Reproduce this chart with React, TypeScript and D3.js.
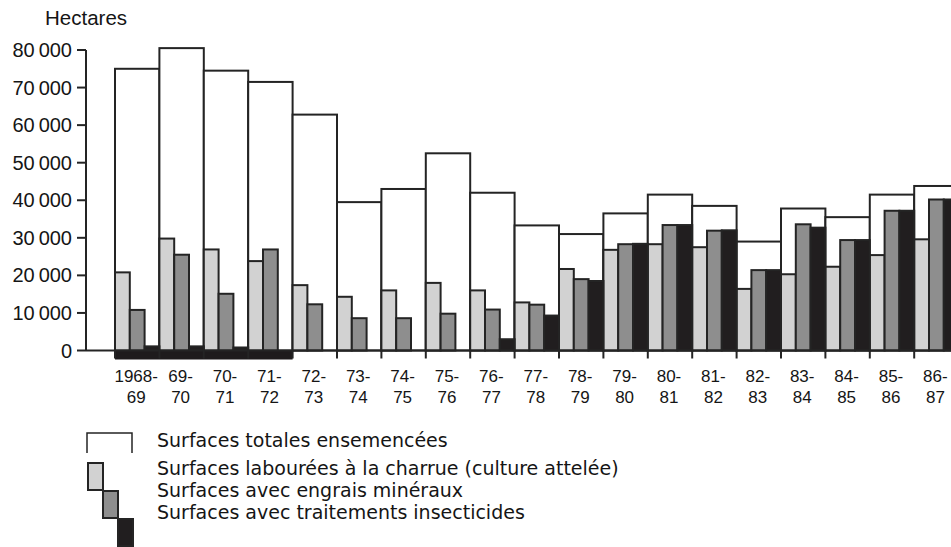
import React, { useEffect, useRef } from "react";
import * as d3 from "d3";

// Périodes (campagnes agricoles)
const periods = [
  "1968-69", "69-70", "70-71", "71-72", "72-73", "73-74", "74-75", "75-76", "76-77", "77-78",
  "78-79", "79-80", "80-81", "81-82", "82-83", "83-84", "84-85", "85-86", "86-87",
];
const labelTop = [
  "1968-", "69-", "70-", "71-", "72-", "73-", "74-", "75-", "76-", "77-",
  "78-", "79-", "80-", "81-", "82-", "83-", "84-", "85-", "86-",
];
const labelBottom = [
  "69", "70", "71", "72", "73", "74", "75", "76", "77", "78",
  "79", "80", "81", "82", "83", "84", "85", "86", "87",
];

// Hectares
const totales = [75000, 80500, 74500, 71500, 62800, 39500, 43000, 52500, 42000, 33300, 31000, 36500, 41500, 38500, 29000, 37800, 35500, 41500, 43800];
const charrue = [20800, 29800, 26900, 23800, 17400, 14300, 16000, 18000, 16000, 12800, 21700, 26800, 28300, 27500, 16400, 20300, 22300, 25400, 29600];
const engrais = [10800, 25500, 15100, 26900, 12300, 8600, 8600, 9800, 10900, 12200, 19000, 28300, 33400, 31900, 21400, 33600, 29400, 37200, 40200];
const insecticides = [1100, 1100, 800, 0, 0, 0, 0, 0, 3000, 9300, 18500, 28400, 33400, 32000, 21400, 32700, 29400, 37200, 40200];

// bande noire sous l'axe
const bandPeriods = ["1968-69", "69-70", "70-71", "71-72"];

const yTicks = [0, 10000, 20000, 30000, 40000, 50000, 60000, 70000, 80000];

const legendItems = [
  "Surfaces totales ensemencées",
  "Surfaces labourées à la charrue (culture attelée)",
  "Surfaces avec engrais minéraux",
  "Surfaces avec traitements insecticides",
];

const subSeries = ["charrue", "engrais", "insecticides"];
const subColors = ["#d2d2d2", "#8e8e8e", "#211e1f"];
const ink = "#242424";

const App = () => {
  const svgRef = useRef<SVGSVGElement>(null);

  useEffect(() => {
    const width = 951;
    const height = 547;
    const svg = d3.select(svgRef.current).attr("width", width).attr("height", height);
    svg.selectAll("*").remove();

    const axisX = 86;
    const x0 = 115;
    const step = 44.4;

    const x = d3.scaleBand<string>()
      .domain(periods)
      .range([x0, x0 + step * periods.length])
      .padding(0);

    const xs = d3.scaleBand<string>()
      .domain(subSeries)
      .range([0, x.bandwidth()])
      .padding(0);

    const y = d3.scaleLinear().domain([0, 80000]).range([350.5, 50]);

    const sub = [charrue, engrais, insecticides];
    const font = "'Liberation Sans', Arial, sans-serif";
    const textColor = "#151515";

    // barres totales
    svg.append("g")
      .selectAll("rect")
      .data(periods)
      .join("rect")
      .attr("x", (d) => x(d)!)
      .attr("y", (d, i) => y(totales[i]))
      .attr("width", x.bandwidth())
      .attr("height", (d, i) => y(0) - y(totales[i]))
      .attr("fill", "#fff")
      .attr("stroke", ink)
      .attr("stroke-width", 2);

    // barres détaillées
    subSeries.forEach((s, k) => {
      svg.append("g")
        .selectAll("rect")
        .data(periods)
        .join("rect")
        .attr("x", (d) => x(d)! + xs(s)!)
        .attr("y", (d, i) => y(sub[k][i]))
        .attr("width", xs.bandwidth())
        .attr("height", (d, i) => y(0) - y(sub[k][i]))
        .attr("fill", subColors[k])
        .attr("stroke", ink)
        .attr("stroke-width", (d, i) => (sub[k][i] > 0 ? 2 : 0));
    });

    // bande noire
    svg.append("rect")
      .attr("x", x(bandPeriods[0])!)
      .attr("y", y(0))
      .attr("width", x.bandwidth() * bandPeriods.length)
      .attr("height", 9)
      .attr("fill", "#1e1b1c");

    // axe des x
    svg.append("line")
      .attr("x1", axisX)
      .attr("x2", width)
      .attr("y1", y(0))
      .attr("y2", y(0))
      .attr("stroke", ink)
      .attr("stroke-width", 2);

    svg.append("g")
      .selectAll("line")
      .data(periods)
      .join("line")
      .attr("x1", (d) => x(d)!)
      .attr("x2", (d) => x(d)!)
      .attr("y1", y(0))
      .attr("y2", y(0) + 8)
      .attr("stroke", ink)
      .attr("stroke-width", 2);

    const xl = svg.append("g")
      .attr("font-family", font)
      .attr("font-size", 17)
      .attr("fill", textColor)
      .attr("text-anchor", "middle");
    xl.selectAll("text.t")
      .data(periods)
      .join("text")
      .attr("class", "t")
      .attr("x", (d) => x(d)! + x.bandwidth() / 2 - 1)
      .attr("y", 382)
      .text((d, i) => labelTop[i]);
    xl.selectAll("text.b")
      .data(periods)
      .join("text")
      .attr("class", "b")
      .attr("x", (d) => x(d)! + x.bandwidth() / 2 - 1)
      .attr("y", 403)
      .text((d, i) => labelBottom[i]);

    // axe des y
    svg.append("line")
      .attr("x1", axisX)
      .attr("x2", axisX)
      .attr("y1", y(80000))
      .attr("y2", y(0))
      .attr("stroke", ink)
      .attr("stroke-width", 2);

    const yl = svg.append("g");
    yl.selectAll("line")
      .data(yTicks)
      .join("line")
      .attr("x1", axisX - 9)
      .attr("x2", axisX)
      .attr("y1", (d) => y(d))
      .attr("y2", (d) => y(d))
      .attr("stroke", ink)
      .attr("stroke-width", 2);
    yl.selectAll("text")
      .data(yTicks)
      .join("text")
      .attr("x", 72)
      .attr("y", (d) => y(d) + 7)
      .attr("text-anchor", "end")
      .attr("font-family", font)
      .attr("font-size", 20)
      .attr("fill", textColor)
      .text((d) => (d === 0 ? "0" : d3.format(",")(d).replace(",", "\u202f")));

    svg.append("text")
      .attr("x", 45)
      .attr("y", 25)
      .attr("font-family", font)
      .attr("font-size", 20.5)
      .attr("fill", textColor)
      .text("Hectares");

    // légende
    const lg = svg.append("g");
    lg.append("path")
      .attr("d", "M87,453 V433 H132 V453")
      .attr("fill", "none")
      .attr("stroke", ink)
      .attr("stroke-width", 1.5);
    subColors.forEach((c, k) => {
      lg.append("rect")
        .attr("x", 88 + k * 15)
        .attr("y", 463 + k * 28)
        .attr("width", 15)
        .attr("height", 27)
        .attr("fill", c)
        .attr("stroke", ink)
        .attr("stroke-width", 2);
    });
    lg.selectAll("text")
      .data(legendItems)
      .join("text")
      .attr("x", 157)
      .attr("y", (d, i) => [447, 475, 497, 519][i])
      .attr("font-family", "'DejaVu Sans', sans-serif")
      .attr("font-size", 19)
      .attr("fill", textColor)
      .text((d) => d);
  }, []);

  return (
    <svg ref={svgRef} style={{ position: "absolute", left: 0, top: 0, background: "#fff" }}></svg>
  );
};

export default App;
